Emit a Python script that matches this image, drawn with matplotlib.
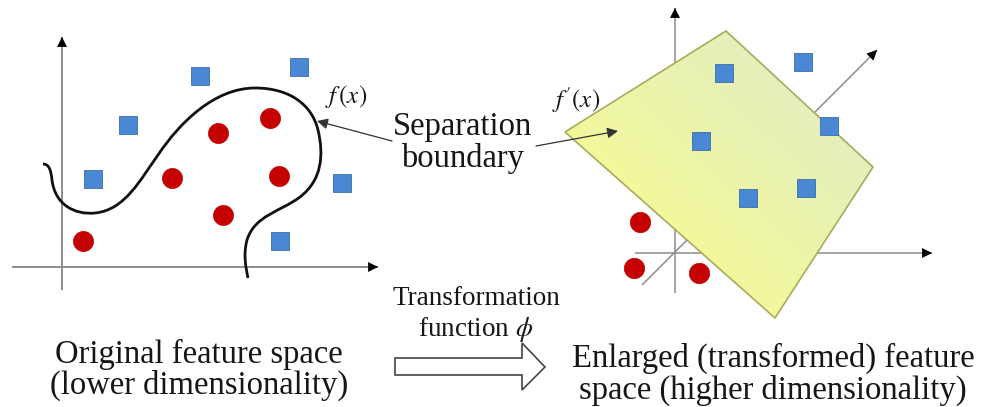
import numpy as np
import matplotlib
matplotlib.use("Agg")
import matplotlib.pyplot as plt
from matplotlib.path import Path
from matplotlib.patches import PathPatch, Polygon

plt.rcParams['font.family'] = ['Liberation Serif', 'DejaVu Serif']
plt.rcParams['mathtext.fontset'] = 'stix'

# data (picture pixel coordinates, y pointing down)
left_sq_x = [200, 299, 128, 93, 342, 280]
left_sq_y = [76, 67, 125, 179, 183, 241]
left_dot_x = [218, 270, 172, 279, 223, 83]
left_dot_y = [133, 118, 178, 176, 215, 241]

right_sq_x = [724, 803, 701, 829, 748, 806]
right_sq_y = [73, 62, 141, 126, 198, 188]
right_dot_x = [640, 634, 699]
right_dot_y = [222, 268, 273]

plane_x = [726, 873, 775, 565]
plane_y = [31, 167, 318, 132]

# boundary curve f(x): start point then cubic bezier triples
curve_pts = [(43, 164),
             (49, 164), (51, 170), (52, 180),
             (55, 205), (75, 215), (95, 213),
             (125, 210), (140, 180), (158, 155),
             (180, 122), (215, 88), (255, 88),
             (290, 88), (312, 105), (318, 130),
             (324, 155), (322, 180), (300, 197),
             (280, 212), (255, 215), (247, 240),
             (243, 255), (246, 268), (248, 278)]

left_caption = "Original feature space\n(lower dimensionality)"
right_caption = "Enlarged (transformed) feature\nspace (higher dimensionality)"
mid_caption = "Transformation\nfunction $\\phi$"
boundary_label = "Separation\nboundary"

W, H = 982, 407
fig = plt.figure(figsize=(W / 100, H / 100), dpi=100)
ax = fig.add_axes([0, 0, 1, 1])
ax.set_xlim(0, W)
ax.set_ylim(H, 0)
ax.axis("off")

axis_col = "#8c8c8c"
sq_col = "#4a88d6"
sq_edge = "#3b6ea8"
dot_col = "#c40000"
txt_col = "#161616"


def axis_arrow(x0, y0, x1, y1, lw=1.4, head=16, z=1):
    ax.plot([x0, x1], [y0, y1], color=axis_col, lw=lw, zorder=z, solid_capstyle="butt")
    d = np.hypot(x1 - x0, y1 - y0)
    ux, uy = (x1 - x0) / d, (y1 - y0) / d
    ax.annotate("", xy=(x1, y1), xytext=(x1 - 6 * ux, y1 - 6 * uy),
                arrowprops=dict(arrowstyle="-|>", color="black", lw=0.5,
                                mutation_scale=head, shrinkA=0, shrinkB=0),
                zorder=z + 0.5)


# ---- left panel
axis_arrow(62, 290, 62, 37)
axis_arrow(12, 267, 378, 267)

codes = [Path.MOVETO] + [Path.CURVE4] * (len(curve_pts) - 1)
ax.add_patch(PathPatch(Path(curve_pts, codes), fill=False, lw=2.0, ec="#111111", zorder=3))

ax.scatter(left_sq_x, left_sq_y, marker="s", s=165, c=sq_col, edgecolors=sq_edge, linewidths=0.6, zorder=4)
ax.scatter(left_dot_x, left_dot_y, marker="o", s=210, c=dot_col, edgecolors=dot_col, linewidths=0.5, zorder=4)

ax.text(346, 97, "$f\\,(x)$", fontsize=18, ha="center", va="center", color=txt_col)

# ---- right panel
axis_arrow(675, 293, 675, 8, lw=1.1, z=1)
axis_arrow(635, 253, 932, 253, lw=1.1, z=1)
axis_arrow(642, 285, 877, 50, lw=1.1, z=1)

poly = Polygon(list(zip(plane_x, plane_y)), closed=True, fc="none", ec="#a9ab5c", lw=1.2, zorder=2.6)
ax.add_patch(poly)
gx, gy = np.meshgrid(np.linspace(0, 1, 200), np.linspace(0, 1, 200))
g = np.clip((gx + (1 - gy)) / 2, 0, 1)  # 0 lower-left -> 1 upper-right
c0 = np.array([1.0, 1.0, 0.52])
c1 = np.array([0.86, 0.92, 0.80])
img = c0[None, None, :] * (1 - g[..., None]) + c1[None, None, :] * g[..., None]
im = ax.imshow(img, extent=[min(plane_x), max(plane_x), max(plane_y), min(plane_y)],
               origin="upper", zorder=2.5, aspect="auto")
im.set_clip_path(poly)

ax.scatter(right_sq_x, right_sq_y, marker="s", s=185, c=sq_col, edgecolors=sq_edge, linewidths=0.6, zorder=4)
ax.scatter(right_dot_x, right_dot_y, marker="o", s=215, c=dot_col, edgecolors=dot_col, linewidths=0.5, zorder=4)

ax.text(576, 100, "$f'(x)$", fontsize=18, ha="center", va="center", color=txt_col)

# ---- labels and pointers
ax.text(463, 143, boundary_label, fontsize=23.5, ha="center", va="center",
        color=txt_col, linespacing=1.05)
ax.annotate("", xy=(317, 121), xytext=(392, 141),
            arrowprops=dict(arrowstyle="-|>", color="#333333", lw=0.9,
                            mutation_scale=16, shrinkA=0, shrinkB=0), zorder=5)
ax.annotate("", xy=(618, 131), xytext=(536, 146),
            arrowprops=dict(arrowstyle="-|>", color="#333333", lw=0.9,
                            mutation_scale=16, shrinkA=0, shrinkB=0), zorder=5)

ax.text(199, 370, left_caption, fontsize=23.5, ha="center", va="center",
        color=txt_col, linespacing=1.02)
ax.text(773, 374, right_caption, fontsize=23.5, ha="center", va="center",
        color=txt_col, linespacing=1.02)
ax.text(476, 315, mid_caption, fontsize=19.5, ha="center", va="center",
        color=txt_col, linespacing=1.2)

# hollow block arrow
arrow_x = [395, 522, 522, 545, 522, 522, 395]
arrow_y = [358, 358, 343, 367, 390, 375, 375]
ax.add_patch(Polygon(list(zip(arrow_x, arrow_y)), closed=True, fc="white", ec="#444444", lw=1.2, zorder=3))

fig.savefig("out.png", dpi=100)
